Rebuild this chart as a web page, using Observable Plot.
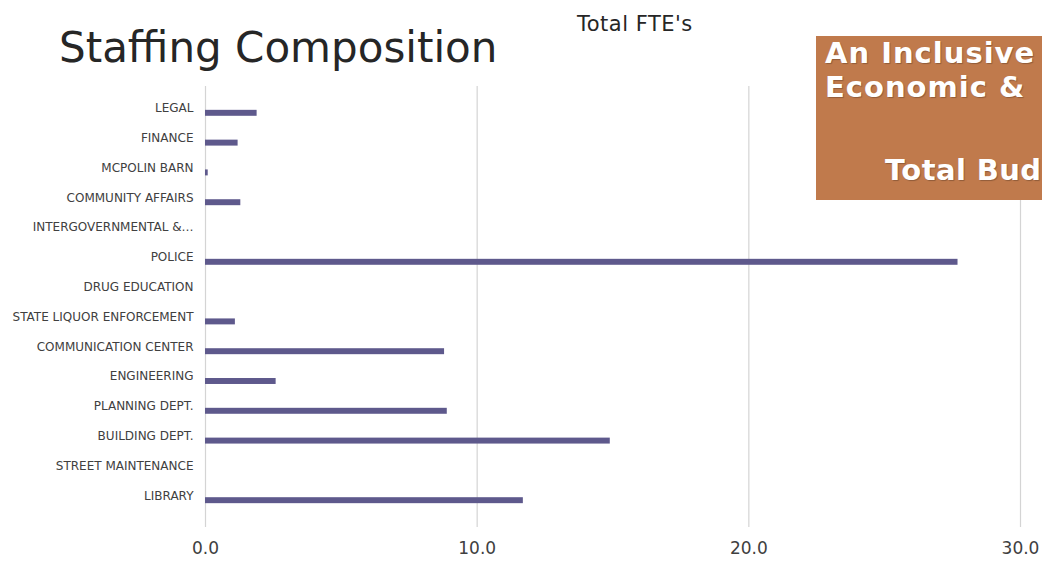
<!DOCTYPE html>
<html>
<head>
<meta charset="utf-8">
<script src="https://cdn.jsdelivr.net/npm/d3@7"></script>
<script src="https://cdn.jsdelivr.net/npm/@observablehq/plot@0.6"></script>
<style>
  html, body { margin: 0; padding: 0; background: #fff; }
  #wrap { position: relative; width: 1042px; height: 562px; overflow: hidden; font-family: "DejaVu Sans", sans-serif; }
  #chart { position: absolute; left: 0; top: 0; }
  #title { position: absolute; left: 59px; top: 27px; font-size: 42px; line-height: 1; color: #262626; white-space: nowrap; }
  #sub { position: absolute; left: 577px; top: 14px; font-size: 21px; line-height: 1; color: #262626; white-space: nowrap; letter-spacing: 0.5px; }
  #box { position: absolute; left: 816px; top: 36px; width: 240px; height: 164px; background: #c07a4c; color: #fff; font-weight: bold; font-size: 29px; line-height: 1; white-space: nowrap; text-shadow: 1px 1px 1px rgba(0,0,0,0.25); }
  #box span { position: absolute; }
  #box .l1 { left: 9px; top: 3px; letter-spacing: 1px; }
  #box .l2 { left: 9px; top: 37px; letter-spacing: 1px; }
  #box .l3 { left: 69px; top: 120px; letter-spacing: 0.4px; }
</style>
</head>
<body>
<div id="wrap">
  <div id="chart"></div>
  <div id="title">Staffing Composition</div>
  <div id="sub">Total FTE's</div>
  <div id="box"><span class="l1">An Inclusive</span><span class="l2">Economic &amp;</span><span class="l3">Total Bud</span></div>
</div>
<script>
const departments = [
  "LEGAL", "FINANCE", "MCPOLIN BARN", "COMMUNITY AFFAIRS", "INTERGOVERNMENTAL &…",
  "POLICE", "DRUG EDUCATION", "STATE LIQUOR ENFORCEMENT", "COMMUNICATION CENTER",
  "ENGINEERING", "PLANNING DEPT.", "BUILDING DEPT.", "STREET MAINTENANCE", "LIBRARY"
];
const fte = [1.9, 1.2, 0.1, 1.3, 0, 27.7, 0, 1.1, 8.8, 2.6, 8.9, 14.9, 0, 11.7];
const xTicks = [0, 10, 20, 30];

const data = departments.map((d, i) => ({dept: d, fte: fte[i]}));

const chart = Plot.plot({
  width: 1042,
  height: 562,
  marginLeft: 205,
  marginRight: 22,
  marginTop: 86,
  marginBottom: 35,
  style: {fontFamily: "DejaVu Sans, sans-serif", color: "#404040", background: "transparent"},
  x: {domain: [0, 30]},
  y: {domain: departments, paddingInner: 0.8, paddingOuter: 0.8, align: 0.5, round: false},
  marks: [
    Plot.gridX(xTicks, {stroke: "#d4d4d4", strokeOpacity: 1, strokeWidth: 1.2}),
    Plot.barX(data, {x: "fte", y: "dept", fill: "#5e598c"}),
    Plot.axisY({tickSize: 0, tickPadding: 12, dy: -5, fontSize: 12, label: null, fill: "#404040", style: {letterSpacing: "0.6px"}}),
    Plot.axisX(xTicks, {tickFormat: d => d.toFixed(1), tickSize: 0, tickPadding: 14, fontSize: 17, label: null, fill: "#404040"})
  ]
});
document.getElementById("chart").appendChild(chart);
</script>
</body>
</html>
